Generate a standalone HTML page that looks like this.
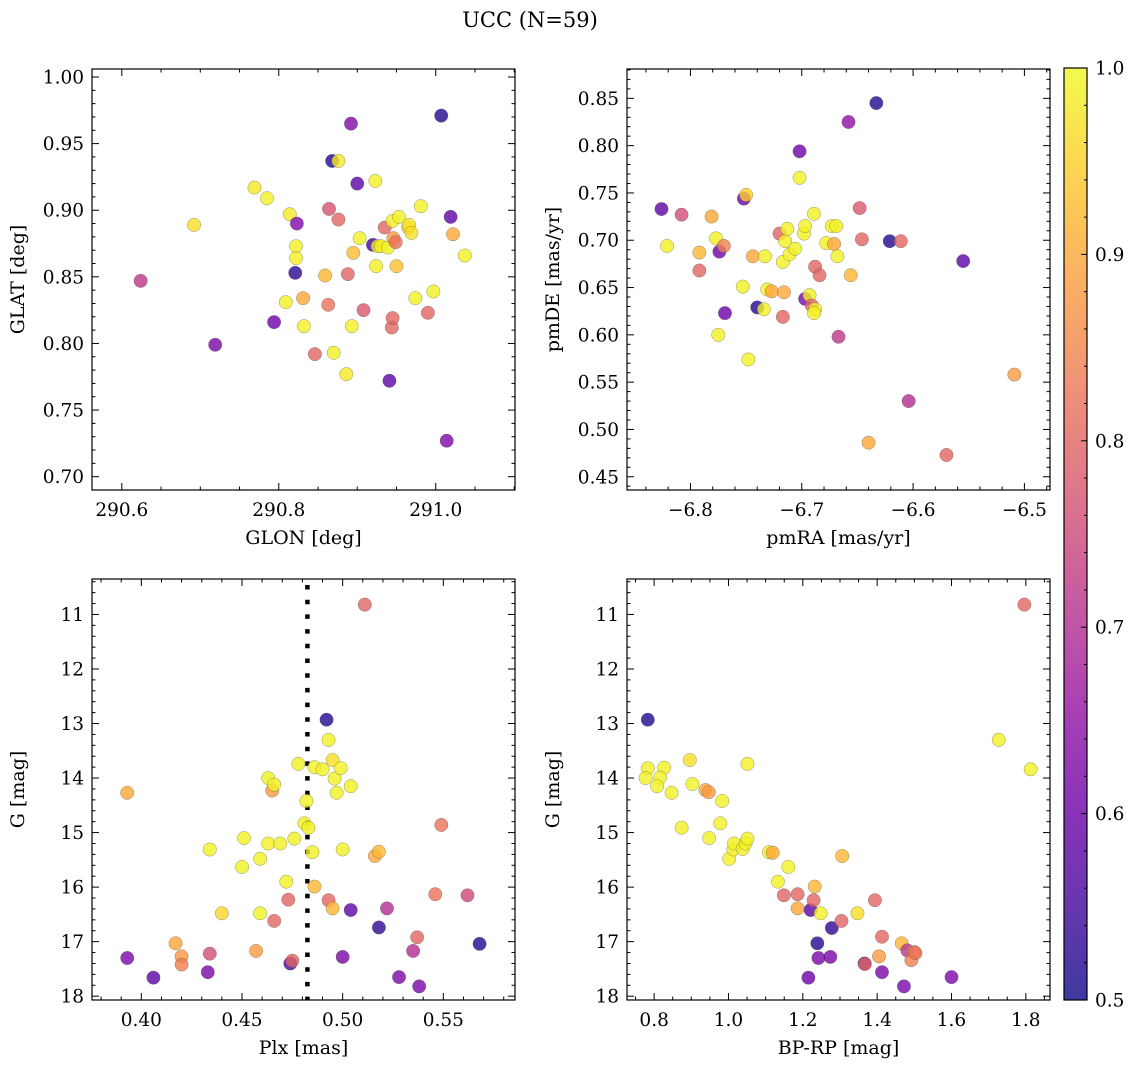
<!DOCTYPE html>
<html><head><meta charset="utf-8"><style>
html,body{margin:0;padding:0;background:#fff;}
svg{display:block;font-family:"DejaVu Serif","Liberation Serif",serif;}
</style></head><body>
<svg id="fig" width="1136" height="1067" viewBox="0 0 1136 1067" xmlns="http://www.w3.org/2000/svg">
<rect width="1136" height="1067" fill="#fff"/>
<text x="530" y="27" font-size="21" text-anchor="middle">UCC (N=59)</text>
<g id="panels"></g>
<g id="cbar"></g>
</svg>
<script>
// ---- Panel 1: GLON vs GLAT ----
const tlLon=[290.624,290.692,290.719,290.769,290.785,290.794,290.809,290.814,290.823,290.822,290.822,290.821,290.831,290.832,290.846,290.859,290.863,290.864,290.868,290.876,290.876,290.870,290.886,290.888,290.892,290.893,290.895,290.900,290.903,290.908,290.923,290.920,290.924,290.926,290.930,290.939,290.935,290.941,290.944,290.945,290.946,290.949,290.945,290.950,290.953,290.965,290.966,290.969,290.974,290.981,290.990,290.997,291.007,291.019,291.014,291.022,291.037];
const tlLat=[0.847,0.889,0.799,0.917,0.909,0.816,0.831,0.897,0.890,0.873,0.864,0.853,0.834,0.813,0.792,0.851,0.829,0.901,0.937,0.937,0.893,0.793,0.777,0.852,0.965,0.813,0.868,0.920,0.879,0.825,0.922,0.874,0.858,0.873,0.873,0.872,0.887,0.772,0.812,0.819,0.879,0.876,0.892,0.858,0.895,0.887,0.889,0.883,0.834,0.903,0.823,0.839,0.971,0.895,0.727,0.882,0.866];
const tlProb=[0.72,0.97,0.62,0.98,0.99,0.6,0.99,0.98,0.63,0.99,0.99,0.53,0.9,0.99,0.8,0.92,0.82,0.77,0.52,0.98,0.8,0.99,0.98,0.8,0.63,0.99,0.93,0.58,0.99,0.78,0.99,0.55,0.99,0.99,0.99,0.99,0.8,0.58,0.8,0.8,0.88,0.82,0.99,0.93,0.99,0.94,0.98,0.97,0.99,0.99,0.8,0.99,0.52,0.58,0.63,0.9,0.99];
// ---- Panel 2: pmRA vs pmDE ----
const trRA=[-6.826,-6.821,-6.808,-6.792,-6.792,-6.781,-6.777,-6.774,-6.770,-6.769,-6.775,-6.753,-6.752,-6.750,-6.748,-6.744,-6.740,-6.734,-6.733,-6.731,-6.727,-6.720,-6.717,-6.717,-6.716,-6.715,-6.713,-6.711,-6.706,-6.702,-6.702,-6.698,-6.697,-6.697,-6.693,-6.691,-6.689,-6.688,-6.688,-6.689,-6.684,-6.678,-6.671,-6.673,-6.669,-6.668,-6.667,-6.658,-6.656,-6.648,-6.646,-6.640,-6.633,-6.621,-6.611,-6.604,-6.570,-6.555,-6.509];
const trDE=[0.733,0.694,0.727,0.687,0.668,0.725,0.702,0.688,0.694,0.623,0.600,0.651,0.744,0.748,0.574,0.683,0.629,0.627,0.683,0.648,0.646,0.707,0.619,0.677,0.645,0.699,0.712,0.685,0.691,0.794,0.766,0.707,0.715,0.638,0.642,0.631,0.728,0.672,0.627,0.623,0.663,0.697,0.696,0.715,0.715,0.683,0.598,0.825,0.663,0.734,0.701,0.486,0.845,0.699,0.699,0.530,0.473,0.678,0.558];
const trProb=[0.58,0.99,0.76,0.92,0.8,0.9,0.99,0.6,0.84,0.6,0.99,0.99,0.6,0.95,0.99,0.9,0.52,0.99,0.99,0.99,0.9,0.8,0.8,0.99,0.9,0.99,0.99,0.99,0.99,0.6,0.99,0.99,0.99,0.62,0.99,0.8,0.99,0.8,0.99,0.99,0.8,0.99,0.9,0.99,0.99,0.99,0.72,0.65,0.92,0.78,0.8,0.9,0.52,0.52,0.8,0.7,0.8,0.58,0.88];
// ---- Panel 3: Plx vs G ----
const blPlx=[0.393,0.393,0.406,0.417,0.420,0.420,0.434,0.434,0.433,0.440,0.451,0.450,0.457,0.459,0.459,0.463,0.465,0.466,0.463,0.466,0.469,0.472,0.473,0.474,0.475,0.476,0.478,0.481,0.482,0.483,0.485,0.486,0.486,0.490,0.492,0.493,0.493,0.495,0.495,0.496,0.497,0.499,0.500,0.500,0.504,0.504,0.511,0.516,0.518,0.518,0.522,0.528,0.535,0.537,0.538,0.546,0.549,0.562,0.568];
const blG=[14.27,17.30,17.66,17.03,17.27,17.42,15.31,17.22,17.56,16.48,15.10,15.63,17.17,15.48,16.48,14.00,14.23,14.12,15.20,16.62,15.20,15.90,16.23,17.40,17.35,15.11,13.74,14.83,14.42,14.91,15.36,15.99,13.80,13.84,12.93,13.30,16.24,16.39,13.67,14.01,14.27,13.82,15.31,17.28,16.42,14.15,10.82,15.43,15.35,16.74,16.39,17.65,17.17,16.92,17.82,16.13,14.86,16.15,17.04];
const blProb=[0.9,0.62,0.58,0.9,0.88,0.84,0.99,0.76,0.62,0.96,0.99,0.99,0.88,0.99,0.99,0.99,0.88,0.99,0.99,0.8,0.99,0.99,0.8,0.55,0.8,0.99,0.99,0.99,0.99,0.99,0.99,0.92,0.99,0.99,0.52,0.99,0.8,0.92,0.97,0.99,0.99,0.99,0.99,0.62,0.58,0.99,0.8,0.9,0.92,0.53,0.7,0.62,0.7,0.8,0.62,0.82,0.82,0.75,0.52];
const blPlxLine=0.4825;
// ---- Panel 4: BP-RP vs G ----
const brCol=[0.783,0.783,0.777,0.827,0.816,0.808,0.847,0.896,0.903,0.874,0.938,0.947,0.983,0.978,0.948,1.002,1.013,1.015,1.038,1.046,1.051,1.051,1.109,1.119,1.161,1.133,1.149,1.186,1.186,1.221,1.229,1.232,1.248,1.215,1.239,1.242,1.274,1.278,1.304,1.306,1.347,1.366,1.367,1.394,1.405,1.413,1.413,1.466,1.472,1.481,1.492,1.500,1.503,1.600,1.727,1.796,1.813];
const brG=[12.93,13.82,14.00,13.81,13.99,14.15,14.27,13.67,14.11,14.91,14.22,14.26,14.42,14.83,15.10,15.48,15.31,15.20,15.30,15.20,15.11,13.74,15.36,15.37,15.63,15.90,16.15,16.13,16.39,16.42,16.24,15.99,16.48,17.66,17.03,17.30,17.28,16.75,16.62,15.43,16.48,17.40,17.41,16.24,17.27,16.91,17.56,17.03,17.82,17.16,17.34,17.19,17.21,17.65,13.30,10.82,13.84];
const brProb=[0.52,0.99,0.99,0.99,0.99,0.99,0.99,0.97,0.99,0.99,0.9,0.88,0.99,0.99,0.99,0.99,0.99,0.99,0.99,0.99,0.99,0.99,0.99,0.9,0.99,0.99,0.8,0.8,0.9,0.58,0.8,0.92,0.99,0.6,0.52,0.62,0.62,0.53,0.8,0.92,0.97,0.55,0.8,0.8,0.88,0.8,0.62,0.92,0.62,0.72,0.84,0.86,0.82,0.62,0.99,0.8,0.99];
// colorbar
const cbTicks=[0.5,0.6,0.7,0.8,0.9,1.0];

const NS='http://www.w3.org/2000/svg';
const TICKFS=18.5, LABFS=19;
const plasmaStops=['#0d0887','#41049d','#6a00a8','#8f0da4','#b12a90','#cc4778','#e16462','#f2844b','#fca636','#fcce25','#f0f921'];
function hex2rgb(h){return [parseInt(h.substr(1,2),16),parseInt(h.substr(3,2),16),parseInt(h.substr(5,2),16)];}
function plasma(t){t=Math.max(0,Math.min(1,t));const s=t*10;const i=Math.min(9,Math.floor(s));const f=s-i;
 const a=hex2rgb(plasmaStops[i]),b=hex2rgb(plasmaStops[i+1]);
 return 'rgb('+a.map((v,k)=>Math.round(v+(b[k]-v)*f)).join(',')+')';}
function el(tag,attrs,parent){const e=document.createElementNS(NS,tag);for(const k in attrs)e.setAttribute(k,attrs[k]);parent.appendChild(e);return e;}
function rng(min,max,step){const out=[];const s=Math.ceil(min/step-1e-6);for(let i=s;i*step<=max+1e-9;i++)out.push(+(i*step).toFixed(6));return out;}

const root=document.getElementById('panels');
function panel(o){
 const g=el('g',{},root);
 
 
 const X=v=>o.x0+(v-o.xd[0])/(o.xd[1]-o.xd[0])*(o.x1-o.x0);
 const Y=v=>o.y1+(v-o.yd[0])/(o.yd[1]-o.yd[0])*(o.y0-o.y1);
 const tg=el('g',{stroke:'#000','stroke-width':1},g);
 
 
 const xmin=Math.min(...o.xd),xmax=Math.max(...o.xd),ymin=Math.min(...o.yd),ymax=Math.max(...o.yd);
 rng(xmin,xmax,o.xminor).forEach(v=>{const x=X(v);const major=o.xmajor.some(m=>Math.abs(m-v)<1e-6);const L=major?7:3.5;
  el('line',{x1:x,x2:x,y1:o.y1,y2:o.y1-L},tg);el('line',{x1:x,x2:x,y1:o.y0,y2:o.y0+L},tg);});
 rng(ymin,ymax,o.yminor).forEach(v=>{const y=Y(v);const major=o.ymajor.some(m=>Math.abs(m-v)<1e-6);const L=major?7:3.5;
  el('line',{x1:o.x0,x2:o.x0+L,y1:y,y2:y},tg);el('line',{x1:o.x1,x2:o.x1-L,y1:y,y2:y},tg);});
 o.xmajor.forEach(v=>{const t=el('text',{x:X(v),y:o.y1+26,'font-size':TICKFS,'text-anchor':'middle'},g);t.textContent=o.xfmt(v);
  
  });
 o.ymajor.forEach(v=>{const t=el('text',{x:o.x0-8,y:Y(v)+6.5,'font-size':TICKFS,'text-anchor':'end'},g);t.textContent=o.yfmt(v);
  
  });
 const xl=el('text',{x:(o.x0+o.x1)/2,y:o.y1+54,'font-size':LABFS,'text-anchor':'middle'},g);xl.textContent=o.xlabel;
 
 
 const yc=(o.y0+o.y1)/2, yx=o.x0-68;
 const yl=el('text',{x:yx,y:yc,'font-size':LABFS,'text-anchor':'middle',transform:'rotate(-90 '+yx+' '+yc+')'},g);yl.textContent=o.ylabel;
 
 
 const cid='clip'+o.name;const cp=el('clipPath',{id:cid},g);el('rect',{x:o.x0,y:o.y0,width:o.x1-o.x0,height:o.y1-o.y0},cp);
 const pg=el('g',{'clip-path':'url(#'+cid+')'},g);
 if(o.vline!==undefined){const l=el('line',{x1:X(o.vline),x2:X(o.vline),y1:o.y0+6,y2:o.y1,stroke:'#000','stroke-width':4.5,'stroke-dasharray':'4.5 10.2'},pg);
  
  }
 o.xs.forEach((v,i)=>{const c=el('circle',{cx:X(v),cy:Y(o.ys[i]),r:6.7,fill:plasma((o.ps[i]-0.5)/0.5),'fill-opacity':0.8,stroke:'#555','stroke-opacity':0.6,'stroke-width':0.5},pg);
  
  });
 const fr=el('rect',{x:o.x0,y:o.y0,width:o.x1-o.x0,height:o.y1-o.y0,fill:'none',stroke:'#000','stroke-width':1.2},g);
 
 
}
const f2=v=>v.toFixed(2), f1=v=>v.toFixed(1), fm=v=>(v<0?'\u2212':'')+Math.abs(v).toFixed(1), f0=v=>v.toFixed(0);
panel({name:'glon-glat-panel',x0:92,x1:515,y0:69,y1:490,xd:[290.562,291.101],yd:[0.690,1.006],xmajor:[290.6,290.8,291.0],xminor:0.05,ymajor:rng(0.70,1.0,0.05),yminor:0.01,xfmt:f1,yfmt:f2,xlabel:'GLON [deg]',ylabel:'GLAT [deg]',xs:tlLon,ys:tlLat,ps:tlProb});
panel({name:'pm-panel',x0:627,x1:1050,y0:69,y1:490,xd:[-6.857,-6.477],yd:[0.436,0.881],xmajor:[-6.8,-6.7,-6.6,-6.5],xminor:0.02,ymajor:rng(0.45,0.85,0.05),yminor:0.01,xfmt:fm,yfmt:f2,xlabel:'pmRA [mas/yr]',ylabel:'pmDE [mas/yr]',xs:trRA,ys:trDE,ps:trProb});
panel({name:'plx-g-panel',x0:92,x1:515,y0:579,y1:1000,xd:[0.3755,0.5856],yd:[18.07,10.35],xmajor:[0.40,0.45,0.50,0.55],xminor:0.01,ymajor:[11,12,13,14,15,16,17,18],yminor:0.2,xfmt:f2,yfmt:f0,xlabel:'Plx [mas]',ylabel:'G [mag]',xs:blPlx,ys:blG,ps:blProb,vline:blPlxLine});
panel({name:'cmd-panel',x0:627,x1:1050,y0:579,y1:1000,xd:[0.727,1.865],yd:[18.07,10.35],xmajor:[0.8,1.0,1.2,1.4,1.6,1.8],xminor:0.05,ymajor:[11,12,13,14,15,16,17,18],yminor:0.2,xfmt:f1,yfmt:f0,xlabel:'BP-RP [mag]',ylabel:'G [mag]',xs:brCol,ys:brG,ps:brProb});

(function(){
 const cb=document.getElementById('cbar');
 const cx0=1064,cx1=1087,cy0=68,cy1=1000;
 const defs=el('defs',{},cb);const lg=el('linearGradient',{id:'plasmaGrad',x1:0,y1:1,x2:0,y2:0},defs);
 plasmaStops.forEach((c,i)=>el('stop',{offset:(i*10)+'%','stop-color':c},lg));
 const r=el('rect',{x:cx0,y:cy0,width:cx1-cx0,height:cy1-cy0,fill:'url(#plasmaGrad)','fill-opacity':0.8},cb);
 
 
 const CY=v=>cy1-(v-0.5)/0.5*(cy1-cy0);
 rng(0.5,1.0,0.02).forEach(v=>{const major=cbTicks.some(m=>Math.abs(m-v)<1e-6);el('line',{x1:cx1,x2:cx1-(major?6:3),y1:CY(v),y2:CY(v),stroke:'#000','stroke-width':1},cb);});
 cbTicks.forEach(v=>{const t=el('text',{x:cx1+8,y:CY(v)+6.5,'font-size':TICKFS},cb);t.textContent=v.toFixed(1);
  
  });
 el('rect',{x:cx0,y:cy0,width:cx1-cx0,height:cy1-cy0,fill:'none',stroke:'#000','stroke-width':1.2},cb);
})();
</script>
</body></html>
